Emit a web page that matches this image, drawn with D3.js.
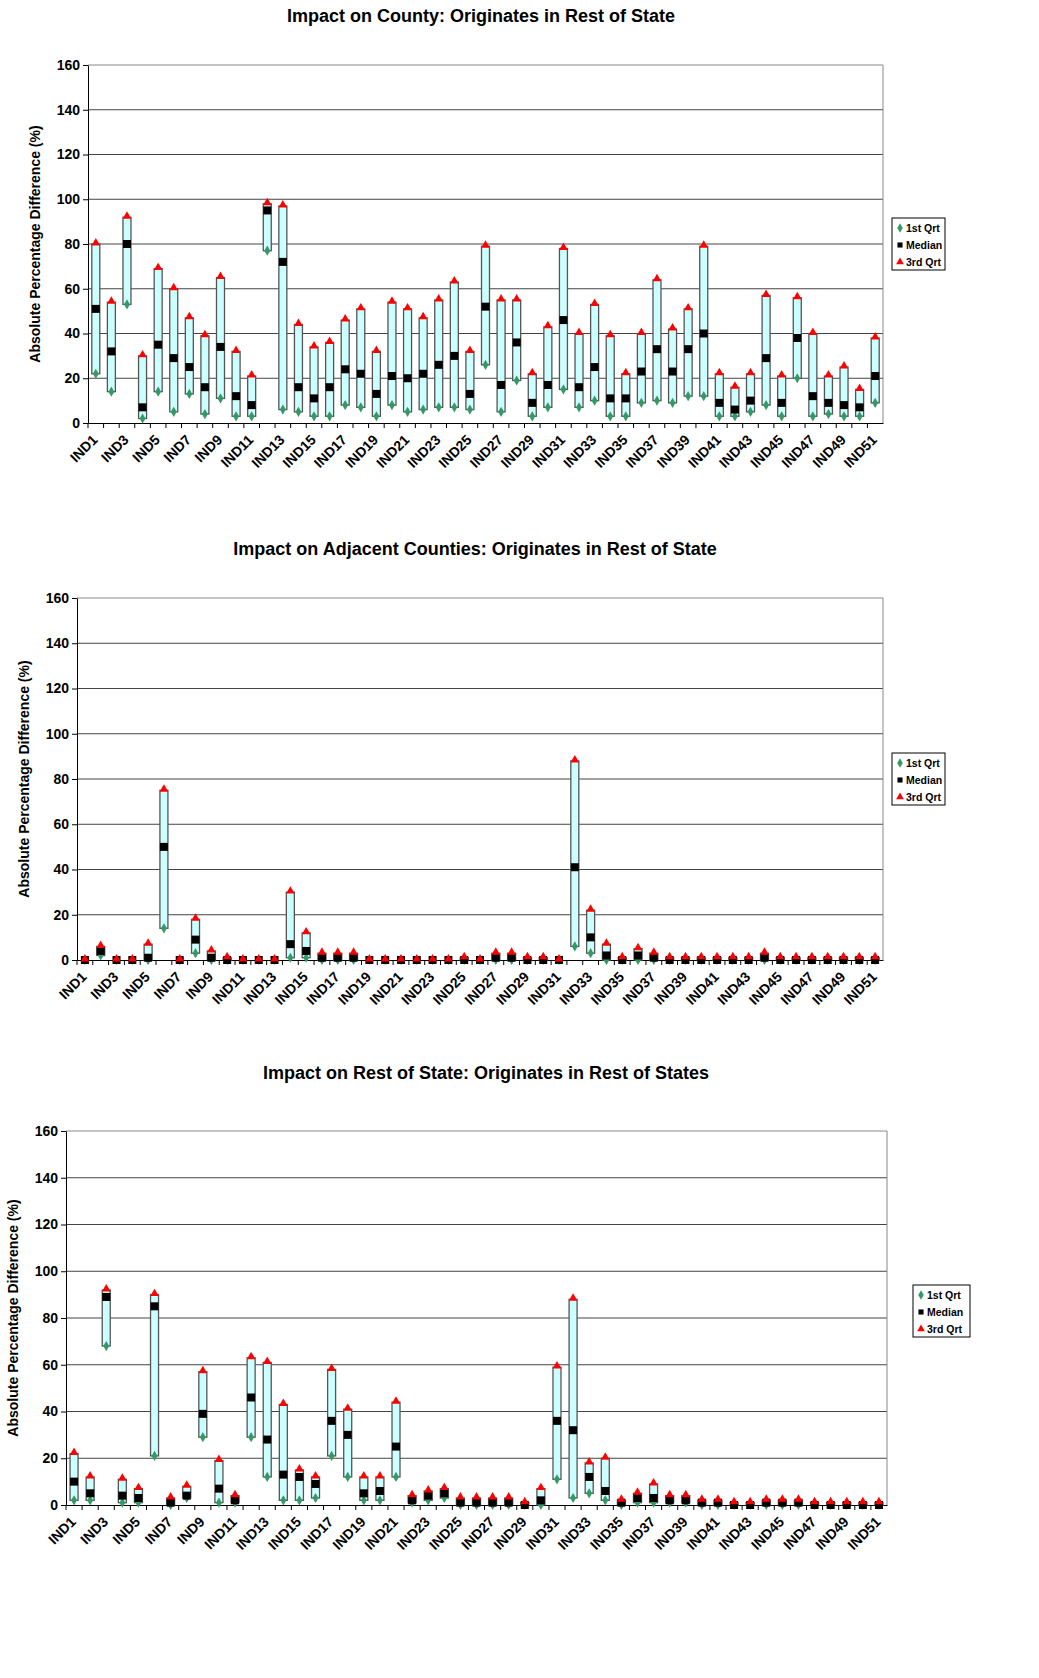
<!DOCTYPE html>
<html lang="en">
<head>
<meta charset="UTF-8">
<title>Impact charts</title>
<script src="https://d3js.org/d3.v7.min.js"></script>
<style>
  body { margin: 0; background: #fff; font-family: Arial, "Liberation Sans", sans-serif; }
  text { font-family: Arial, "Liberation Sans", sans-serif; }
</style>
</head>
<body>
<svg id="chart" width="1039" height="1678"></svg>
<script>
// categories
const inds = d3.range(1, 52).map(i => "IND" + i);
const yTicks = [0, 20, 40, 60, 80, 100, 120, 140, 160];

// Chart 1: County, rest of state
const countyQ1  = [22,14,53,2,14,5,13,4,11,3,3,77,6,5,3,3,8,7,3,8,5,6,7,7,6,26,5,19,3,7,15,7,10,3,3,9,10,9,12,12,3,3,5,8,3,20,3,4,3,3,9];
const countyMed = [51,32,80,7,35,29,25,16,34,12,8,95,72,16,11,16,24,22,13,21,20,22,26,30,13,52,17,36,9,17,46,16,25,11,11,23,33,23,33,40,9,6,10,29,9,38,12,9,8,7,21];
const countyQ3  = [80,54,92,30,69,60,47,39,65,32,21,98,97,44,34,36,46,51,32,54,51,47,55,63,32,79,55,55,22,43,78,40,53,39,22,40,64,42,51,79,22,16,22,57,21,56,40,21,25,15,38];

// Chart 2: Adjacent counties
const adjQ1  = [0,2,0,0,0,14,0,3,0,0,0,0,0,1,1,0,0,0,0,0,0,0,0,0,0,0,0,0,0,0,0,6,3,0,0,0,0,0,0,0,0,0,0,0,0,0,0,0,0,0,0];
const adjMed = [0,4,0,0,1,50,0,9,1,0,0,0,0,7,4,1,1,1,0,0,0,0,0,0,0,0,1,1,0,0,0,41,10,2,0,2,1,0,0,0,0,0,0,1,0,0,0,0,0,0,0];
const adjQ3  = [0,6,0,0,7,75,0,18,4,1,0,0,0,30,12,3,3,3,0,0,0,0,0,0,1,0,3,3,1,1,0,88,22,7,1,5,3,1,1,1,1,1,1,3,1,1,1,1,1,1,1];

// Chart 3: Rest of state, rest of states
const restQ1  = [2,2,68,1,1,21,0,3,29,1,1,29,12,2,2,3,21,12,2,2,12,1,2,3,0,0,0,0,0,0,11,3,5,2,0,1,1,1,1,0,0,0,0,0,0,0,0,0,0,0,0];
const restMed = [10,5,89,4,3,85,1,4,39,7,2,46,28,13,12,9,36,30,5,6,25,2,4,5,1,1,1,1,0,2,36,32,12,6,1,3,3,2,2,1,1,0,0,1,1,1,0,0,0,0,0];
const restQ3  = [22,12,92,11,7,90,3,8,57,19,4,63,61,43,15,12,58,41,12,12,44,4,6,7,3,3,3,3,1,7,59,88,18,20,2,5,9,4,4,2,2,1,1,2,2,2,1,1,1,1,1];

const charts = [
  { title: "Impact on County: Originates in Rest of State", q1: countyQ1, med: countyMed, q3: countyQ3,
    left: 88, right: 883, top: 65, bottom: 423, titleY: 22, titleX: 481, legX: 892, legY: 218 },
  { title: "Impact on Adjacent Counties: Originates in Rest of State", q1: adjQ1, med: adjMed, q3: adjQ3,
    left: 77, right: 883, top: 598, bottom: 960, titleY: 555, titleX: 475, legX: 892, legY: 753 },
  { title: "Impact on Rest of State: Originates in Rest of States", q1: restQ1, med: restMed, q3: restQ3,
    left: 66, right: 887, top: 1131, bottom: 1505, titleY: 1079, titleX: 486, legX: 913, legY: 1285 }
];

const svg = d3.select("#chart");

charts.forEach(c => {
  const g = svg.append("g");
  const x = d3.scaleBand().domain(inds).range([c.left, c.right]);
  const y = d3.scaleLinear().domain([0, 160]).range([c.bottom, c.top]);

  g.append("text").attr("x", c.titleX).attr("y", c.titleY)
    .attr("text-anchor", "middle").attr("font-size", 18).attr("font-weight", "bold")
    .text(c.title);

  // gridlines
  g.selectAll(".grid").data(yTicks.slice(1)).enter().append("line")
    .attr("x1", c.left).attr("x2", c.right)
    .attr("y1", d => y(d)).attr("y2", d => y(d))
    .attr("stroke", d => d === 160 ? "#888" : "#444").attr("stroke-width", 1);
  g.append("line").attr("x1", c.right).attr("x2", c.right).attr("y1", c.top).attr("y2", c.bottom)
    .attr("stroke", "#888");

  // axes
  const ya = g.append("g").attr("transform", `translate(${c.left},0)`)
    .call(d3.axisLeft(y).tickValues(yTicks).tickSize(5).tickSizeOuter(0));
  ya.select(".domain").attr("stroke", "#000");
  ya.selectAll("text").attr("font-size", 14).attr("font-weight", "bold").attr("fill", "#000");

  const xa = g.append("g").attr("transform", `translate(0,${c.bottom})`)
    .call(d3.axisBottom(x).tickSize(5).tickSizeOuter(0));
  xa.select(".domain").attr("stroke", "#000");
  xa.selectAll(".tick line").attr("transform", `translate(${-x.bandwidth() / 2},0)`);
  xa.selectAll(".tick text")
    .text((d, i) => i % 2 === 0 ? d : "")
    .attr("font-size", 14).attr("font-weight", "bold").attr("fill", "#000")
    .attr("text-anchor", "end").attr("dx", 0).attr("dy", 0)
    .attr("transform", "translate(-3,12) rotate(-45)");

  g.append("text")
    .attr("transform", `translate(${c.left - 48},${(c.top + c.bottom) / 2}) rotate(-90)`)
    .attr("text-anchor", "middle").attr("font-size", 14).attr("font-weight", "bold")
    .text("Absolute Percentage Difference (%)");

  const bw = 8;
  const cx = d => x(d) + x.bandwidth() / 2;

  // floating bars q1..q3
  g.selectAll(".bar").data(inds).enter().append("rect")
    .attr("x", d => cx(d) - bw / 2).attr("width", bw)
    .attr("y", (d, i) => y(c.q3[i]))
    .attr("height", (d, i) => Math.max(0, y(c.q1[i]) - y(c.q3[i])))
    .attr("fill", "#ccffff").attr("stroke", "#555").attr("stroke-width", 1.3);

  // q1 diamonds
  g.selectAll(".q1").data(inds).enter().append("path")
    .attr("d", d3.symbol(d3.symbolDiamond, 30))
    .attr("transform", (d, i) => `translate(${cx(d)},${y(c.q1[i])})`)
    .attr("fill", "#339966");
  // median squares
  g.selectAll(".med").data(inds).enter().append("rect")
    .attr("x", d => cx(d) - 4).attr("width", 8)
    .attr("y", (d, i) => y(c.med[i]) - 4).attr("height", 8)
    .attr("fill", "#000");
  // q3 triangles
  g.selectAll(".q3").data(inds).enter().append("path")
    .attr("d", d3.symbol(d3.symbolTriangle, 32))
    .attr("transform", (d, i) => `translate(${cx(d)},${y(c.q3[i]) - 1})`)
    .attr("fill", "#ff0000");

  // legend
  const lg = g.append("g").attr("transform", `translate(${c.legX},${c.legY})`);
  const lw = c.legX > 900 ? 57 : 53;
  lg.append("rect").attr("width", lw).attr("height", 52).attr("fill", "#fff").attr("stroke", "#000");
  const items = [
    { t: "1st Qrt", s: d3.symbolDiamond, col: "#339966" },
    { t: "Median", s: d3.symbolSquare, col: "#000" },
    { t: "3rd Qrt", s: d3.symbolTriangle, col: "#ff0000" }
  ];
  items.forEach((it, i) => {
    lg.append("path").attr("d", d3.symbol(it.s, 26))
      .attr("transform", `translate(8,${10 + i * 17})`).attr("fill", it.col);
    lg.append("text").attr("x", 14).attr("y", 14 + i * 17)
      .attr("font-size", 10.5).attr("font-weight", "bold").text(it.t);
  });
});
</script>
</body>
</html>
